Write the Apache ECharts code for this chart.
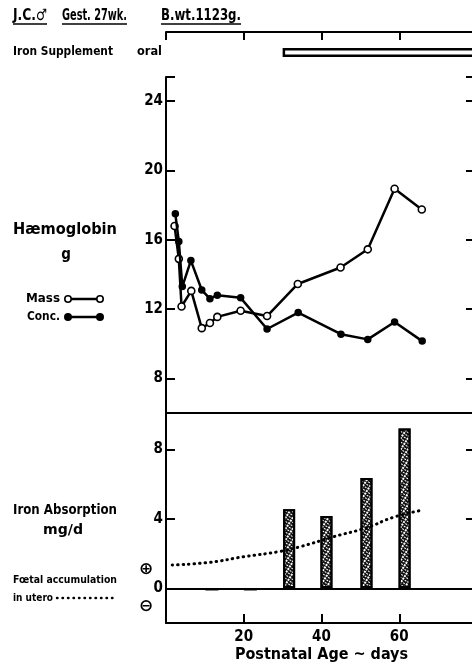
<!DOCTYPE html>
<html><head><meta charset="utf-8">
<script src="https://cdn.jsdelivr.net/npm/echarts@6/dist/echarts.min.js"></script>
<style>html,body{margin:0;padding:0;background:#fff}#c{width:472px;height:669px}</style>
</head><body><div id="c"></div>
<script>
// ---- data ----
const supplementStart = 30;
const supplementEnd = 80;
const hbTickValues = [8, 12, 16, 20, 24];
const absTickValues = [0, 4, 8];
const xTickValues = [20, 40, 60];

const massDays = [2.2, 3.3, 4.0, 6.5, 9.2, 11.3, 13.2, 19.2, 26.0, 33.9, 44.9, 51.9, 58.8, 65.8];
const massHb   = [16.8, 14.9, 12.15, 13.05, 10.9, 11.2, 11.55, 11.9, 11.6, 13.45, 14.4, 15.45, 18.95, 17.75];

const concDays = [2.4, 3.3, 4.2, 6.4, 9.2, 11.3, 13.2, 19.2, 26.0, 34.0, 45.0, 51.9, 58.8, 65.9];
const concHb   = [17.5, 15.9, 13.3, 14.8, 13.1, 12.6, 12.8, 12.65, 10.85, 11.8, 10.55, 10.25, 11.25, 10.15];

const absorptionDays   = [31.8, 41.4, 51.7, 61.5];
const absorptionValues = [4.56, 4.17, 6.36, 9.2];
const lossDays   = [11.8, 21.7];
const lossValues = [-0.13, -0.13];

const foetalDays   = [1.6, 11.4, 20.0, 29.0, 34.6, 43.1, 51.7, 58.6, 65.9];
const foetalValues = [1.34, 1.5, 1.82, 2.11, 2.4, 2.97, 3.5, 4.1, 4.5];

// ---- helpers ----
const zip = (a, b) => a.map((v, i) => [v, b[i]]);
const FONT = "'DejaVu Sans Condensed','Liberation Sans Narrow',sans-serif";
const BLK = '#000';
const mctx = document.createElement('canvas').getContext('2d');
function tw(text, font) { mctx.font = font; return mctx.measureText(text).width; }

const graphics = [];
// text squeezed horizontally to a target width (the reference uses a narrow lettering)
function txt(t, x, y, size, width, align) {
  const font = 'bold ' + size + 'px ' + FONT;
  const s = width ? Math.min(1.4, width / tw(t, font)) : 1;
  graphics.push({type: 'text', x: x, y: y, scaleX: s, scaleY: 1,
    style: {text: t, x: 0, y: 0, font: font, fill: BLK,
      textAlign: align || 'left', align: align || 'left', textVerticalAlign: 'middle', verticalAlign: 'middle'}});
}
const titleParts = [['J.C.\u2642', 13, 34], ['Gest. 27wk.', 62, 65], ['B.wt.1123g.', 161, 80]];
titleParts.forEach(([t, x, w]) => {
  txt(t, x, 16, 16, w);
  graphics.push({type: 'line', shape: {x1: x, y1: 24, x2: x + w, y2: 24}, style: {stroke: BLK, lineWidth: 1.6}});
});
txt('Iron Supplement', 13, 52, 12.5, 100);
txt('oral', 162, 52, 12.5, 25, 'right');
txt('H\u00e6moglobin', 65, 230, 15, 104, 'center');
txt('g', 66, 255, 15, 0, 'center');
txt('Mass', 60, 299, 11.5, 34, 'right');
txt('Conc.', 60, 317, 11.5, 33, 'right');
[[299, '#fff'], [317, BLK]].forEach(([y, fill]) => {
  graphics.push({type: 'line', shape: {x1: 68, y1: y, x2: 100, y2: y}, style: {stroke: BLK, lineWidth: 2.5}});
  graphics.push({type: 'circle', shape: {cx: 68, cy: y, r: 3.2}, style: {fill: fill, stroke: BLK, lineWidth: 1.6}});
  graphics.push({type: 'circle', shape: {cx: 100, cy: y, r: 3.2}, style: {fill: fill, stroke: BLK, lineWidth: 1.6}});
});
txt('Iron Absorption', 65, 510, 14.5, 104, 'center');
txt('mg/d', 63, 530, 14.5, 40, 'center');
txt('F\u0153tal accumulation', 13, 580, 11, 104);
txt('in utero', 13, 598, 11, 40);
graphics.push({type: 'line', shape: {x1: 57, y1: 598, x2: 117, y2: 598}, style: {stroke: BLK, lineWidth: 2.4, lineDash: [0.5, 5], lineCap: 'round'}});
graphics.push({type: 'text', style: {text: '\u2295', x: 146, y: 570, font: 'bold 17px DejaVu Sans', fill: BLK, textAlign: 'center', align: 'center', textVerticalAlign: 'middle', verticalAlign: 'middle'}});
graphics.push({type: 'text', style: {text: '\u2296', x: 146, y: 607, font: 'bold 17px DejaVu Sans', fill: BLK, textAlign: 'center', align: 'center', textVerticalAlign: 'middle', verticalAlign: 'middle'}});

const axLine = {show: true, onZero: false, lineStyle: {color: BLK, width: 2}};
const tickStyle = {color: BLK, width: 2};
const labelStyle = {color: BLK, fontFamily: FONT, fontWeight: 'bold', fontSize: 15};
const gridBase = {left: 166, right: -5, outerBoundsMode: 'none', containLabel: false};

const option = {
  backgroundColor: '#fff',
  animation: false,
  graphic: graphics,
  grid: [
    Object.assign({top: 32, height: 41}, gridBase),
    Object.assign({top: 77, height: 336}, gridBase),
    Object.assign({top: 413, height: 210}, gridBase)
  ],
  xAxis: [
    {gridIndex: 0, type: 'value', min: 0, max: 80, interval: 20, position: 'top',
      axisLine: axLine, axisTick: {show: true, inside: true, length: 8, lineStyle: tickStyle},
      axisLabel: {show: false}, splitLine: {show: false}},
    {gridIndex: 1, type: 'value', min: 0, max: 80, interval: 20, position: 'bottom',
      axisLine: axLine, axisTick: {show: false}, axisLabel: {show: false}, splitLine: {show: false}},
    {gridIndex: 2, type: 'value', min: 0, max: 80, interval: 20, position: 'bottom',
      axisLine: axLine,
      axisTick: {show: true, inside: true, length: 9, lineStyle: tickStyle},
      axisLabel: Object.assign({customValues: xTickValues, margin: 7}, labelStyle),
      splitLine: {show: false},
      name: 'Postnatal Age ~ days', nameLocation: 'middle', nameGap: 24,
      nameTextStyle: {color: BLK, fontFamily: FONT, fontWeight: 'bold', fontSize: 16}}
  ],
  yAxis: [
    {gridIndex: 0, type: 'category', data: ['oral'], show: false},
    {gridIndex: 1, type: 'value', min: 6, max: 25.4, position: 'left',
      axisLine: axLine,
      axisTick: {show: true, inside: true, length: 9, lineStyle: tickStyle, customValues: hbTickValues.concat([25.4])},
      axisLabel: Object.assign({customValues: hbTickValues, margin: 3}, labelStyle),
      splitLine: {show: false}},
    {gridIndex: 1, type: 'value', min: 6, max: 25.4, position: 'right',
      axisLine: axLine,
      axisTick: {show: true, inside: true, length: 11, lineStyle: tickStyle, customValues: hbTickValues.concat([25.4])},
      axisLabel: {show: false}, splitLine: {show: false}},
    {gridIndex: 2, type: 'value', min: -2, max: 10.1, position: 'left',
      axisLine: axLine,
      axisTick: {show: true, inside: true, length: 9, lineStyle: tickStyle, customValues: absTickValues},
      axisLabel: Object.assign({customValues: absTickValues, margin: 3}, labelStyle),
      splitLine: {show: false}},
    {gridIndex: 2, type: 'value', min: -2, max: 10.1, position: 'right',
      axisLine: axLine,
      axisTick: {show: true, inside: true, length: 11, lineStyle: tickStyle, customValues: absTickValues},
      axisLabel: {show: false}, splitLine: {show: false}}
  ],
  series: [
    {name: 'supplement-offset', type: 'bar', xAxisIndex: 0, yAxisIndex: 0, stack: 'sup', barWidth: 9,
      data: [supplementStart], itemStyle: {color: 'rgba(0,0,0,0)'}, silent: true},
    {name: 'Iron Supplement', type: 'bar', xAxisIndex: 0, yAxisIndex: 0, stack: 'sup', barWidth: 9,
      data: [supplementEnd - supplementStart], itemStyle: {color: '#fff', borderColor: BLK, borderWidth: 2.5}},
    {name: 'Mass', type: 'line', xAxisIndex: 1, yAxisIndex: 1, data: zip(massDays, massHb),
      symbol: 'circle', symbolSize: 7, z: 3,
      lineStyle: {color: BLK, width: 2.5}, itemStyle: {color: '#fff', borderColor: BLK, borderWidth: 1.6}},
    {name: 'Conc.', type: 'line', xAxisIndex: 1, yAxisIndex: 1, data: zip(concDays, concHb),
      symbol: 'circle', symbolSize: 7.5, z: 4,
      lineStyle: {color: BLK, width: 2.5}, itemStyle: {color: BLK}},
    {name: 'Iron Absorption', type: 'bar', xAxisIndex: 2, yAxisIndex: 3, data: zip(absorptionDays, absorptionValues),
      barWidth: 12, barGap: '-100%',
      itemStyle: {color: '#111', borderColor: BLK, borderWidth: 2.2,
        decal: {symbol: 'rect', symbolSize: 1, color: '#fff', dashArrayX: [[2, 1], [1, 2]], dashArrayY: [2, 1], rotation: -1.0}},
      markLine: {silent: true, symbol: 'none', label: {show: false},
        lineStyle: {color: BLK, width: 2, type: 'solid'}, data: [{yAxis: 0}]}},
    {name: 'loss', type: 'bar', xAxisIndex: 2, yAxisIndex: 3, data: zip(lossDays, lossValues),
      barWidth: 13, barGap: '-100%', itemStyle: {color: '#222'}},
    {name: 'Foetal accumulation in utero', type: 'line', xAxisIndex: 2, yAxisIndex: 3,
      data: zip(foetalDays, foetalValues), smooth: true, symbol: 'none', z: 5,
      lineStyle: {color: BLK, width: 3, type: [0.5, 5], cap: 'round'}}
  ]
};
const chart = echarts.init(document.getElementById('c'), null, {renderer: 'canvas'});
chart.setOption(option);
</script></body></html>
